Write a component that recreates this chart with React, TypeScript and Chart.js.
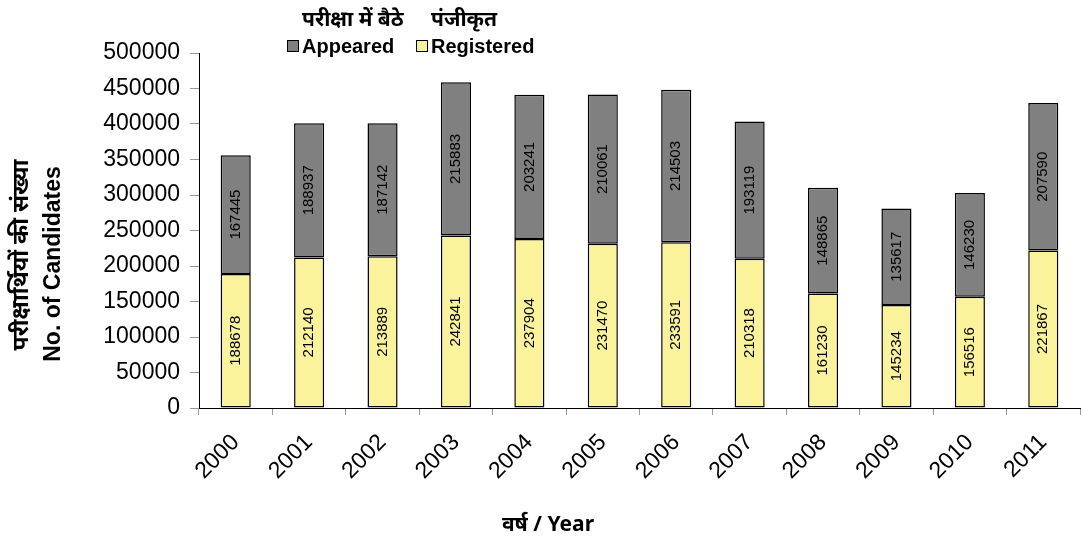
import React, { useEffect, useRef } from 'react';
import { Chart, registerables } from 'chart.js';

Chart.register(...registerables);

const years = ['2000', '2001', '2002', '2003', '2004', '2005', '2006', '2007', '2008', '2009', '2010', '2011'];
const registered = [188678, 212140, 213889, 242841, 237904, 231470, 233591, 210318, 161230, 145234, 156516, 221867];
const appeared = [167445, 188937, 187142, 215883, 203241, 210061, 214503, 193119, 148865, 135617, 146230, 207590];
const legendHindi = ['परीक्षा में बैठे', 'पंजीकृत'];
const legendEnglish = ['Appeared', 'Registered'];
const yTitleLines = ['परीक्षार्थियों की संख्या', 'No. of Candidates'];
const xTitle = 'वर्ष / Year';

const GRAY = '#808080';
const YELLOW = '#FAF39B';
const SANS = 'Arial, "Liberation Sans", sans-serif';
const HINDI = '"Noto Sans", "Noto Sans Devanagari", "Lohit Devanagari", sans-serif';

const labelPlugin = {
  id: 'barLabels',
  afterDatasetsDraw(chart: any) {
    const ctx = chart.ctx;
    ctx.save();
    ctx.font = `15px ${SANS}`;
    ctx.fillStyle = '#000';
    ctx.textAlign = 'center';
    ctx.textBaseline = 'middle';
    chart.data.datasets.forEach((ds: any, di: number) => {
      const meta = chart.getDatasetMeta(di);
      meta.data.forEach((el: any, i: number) => {
        const p = el.getProps(['x', 'y', 'base'], true);
        const cy = (p.y + p.base) / 2;
        ctx.save();
        ctx.translate(p.x, cy);
        ctx.rotate(-Math.PI / 2);
        ctx.fillText(String(ds.data[i]), 0, 0);
        ctx.restore();
      });
    });
    ctx.restore();
  },
};

const decorPlugin = {
  id: 'decor',
  afterDraw(chart: any) {
    const ctx = chart.ctx;
    ctx.save();
    // legend
    const colors = [GRAY, YELLOW];
    const boxX = [287, 416];
    ctx.textBaseline = 'alphabetic';
    ctx.textAlign = 'left';
    for (let i = 0; i < 2; i++) {
      ctx.fillStyle = colors[i];
      ctx.fillRect(boxX[i], 40, 12, 12);
      ctx.strokeStyle = '#000';
      ctx.lineWidth = 1;
      ctx.strokeRect(boxX[i] + 0.5, 40.5, 11, 11);
      ctx.fillStyle = '#000';
      ctx.font = `bold 20px ${SANS}`;
      ctx.fillText(legendEnglish[i], boxX[i] + 15, 53);
      ctx.font = `bold 21px ${HINDI}`;
      ctx.fillText(legendHindi[i], boxX[i] + 15, 26);
    }
    // y title
    ctx.textAlign = 'center';
    ctx.textBaseline = 'middle';
    ctx.save();
    ctx.translate(21, 255);
    ctx.rotate(-Math.PI / 2);
    ctx.font = `bold 23px ${HINDI}`;
    ctx.fillText(yTitleLines[0], 0, 0);
    ctx.restore();
    ctx.save();
    ctx.translate(54, 264);
    ctx.rotate(-Math.PI / 2);
    ctx.font = `bold 23px ${SANS}`;
    ctx.fillText(yTitleLines[1], 0, 0);
    ctx.restore();
    // x title
    ctx.font = `bold 21px ${HINDI}`;
    ctx.fillText(xTitle, 548, 525);
    ctx.restore();
  },
};

export default function App() {
  const ref = useRef<HTMLCanvasElement>(null);
  useEffect(() => {
    if (!ref.current) return;
    const chart = new Chart(ref.current, {
      type: 'bar',
      data: {
        labels: years,
        datasets: [
          {
            label: 'Registered',
            data: registered,
            backgroundColor: YELLOW,
            borderColor: '#000',
            borderWidth: 1.5,
            borderSkipped: false,
            barPercentage: 0.41,
            categoryPercentage: 1,
          },
          {
            label: 'Appeared',
            data: appeared,
            backgroundColor: GRAY,
            borderColor: '#000',
            borderWidth: 1.5,
            borderSkipped: false,
            barPercentage: 0.41,
            categoryPercentage: 1,
          },
        ],
      },
      options: {
        animation: false,
        responsive: true,
        maintainAspectRatio: false,
        layout: { padding: { top: 53, right: 3, left: 0, bottom: 0 } },
        plugins: { legend: { display: false }, tooltip: { enabled: false }, title: { display: false } },
        scales: {
          x: {
            stacked: true,
            grid: { display: true, drawOnChartArea: false, drawTicks: true, tickLength: 7, color: '#999', offset: true },
            border: { color: '#000', width: 1 },
            ticks: { minRotation: 45, maxRotation: 45, color: '#000', font: { size: 23, family: SANS }, padding: 14 },
            afterFit: (s: any) => { s.height = 133; },
          },
          y: {
            stacked: true,
            min: 0,
            max: 500000,
            grid: { display: true, drawOnChartArea: false, drawTicks: true, tickLength: 9, color: '#999' },
            border: { color: '#000', width: 1 },
            ticks: {
              stepSize: 50000,
              color: '#000',
              font: { size: 23, family: SANS },
              padding: 10,
              callback: (v: any) => String(v),
            },
            afterFit: (s: any) => { s.width = 199; },
          },
        },
      },
      plugins: [labelPlugin, decorPlugin],
    });
    return () => chart.destroy();
  }, []);
  return (
    <div style={{ position: 'fixed', left: 0, top: 0, width: 1083, height: 541, background: '#fff' }}>
      <canvas ref={ref} />
    </div>
  );
}
